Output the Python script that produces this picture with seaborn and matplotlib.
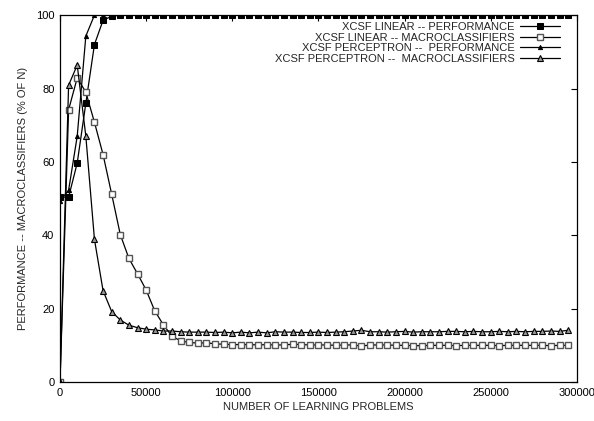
import numpy as np
import pandas as pd
import seaborn as sns
import matplotlib
matplotlib.use('Agg')
import matplotlib.pyplot as plt

# Learning problems, sampled every 5000 steps
problems = np.arange(0, 300000, 5000)

linear_perf = [50.4, 50.4, 59.7, 76.0, 92.0, 98.6, 99.7, 100, 100, 100,
               100, 100, 100, 100, 100, 100, 100, 100, 100, 100,
               100, 100, 100, 100, 100, 100, 100, 100, 100, 100,
               100, 100, 100, 100, 100, 100, 100, 100, 100, 100,
               100, 100, 100, 100, 100, 100, 100, 100, 100, 100,
               100, 100, 100, 100, 100, 100, 100, 100, 100, 100]

linear_macro = [0.0, 74.2, 82.9, 79.0, 70.8, 62.0, 51.2, 40.2, 33.7, 29.5,
                25.1, 19.4, 15.6, 12.5, 11.2, 10.8, 10.6, 10.7, 10.4, 10.3,
                10.2, 10.2, 10.2, 10.1, 10.2, 10.1, 10.1, 10.3, 10.2, 10.1,
                10.1, 10.1, 10.0, 10.1, 10.1, 9.8, 10.1, 10.1, 10.1, 10.0,
                10.0, 9.9, 9.9, 10.0, 10.0, 10.0, 9.9, 10.0, 10.0, 10.0,
                10.0, 9.9, 10.0, 10.0, 10.0, 10.0, 10.0, 9.9, 10.0, 10.0]

perceptron_perf = [49.4, 52.3, 67.0, 94.3, 100, 100, 100, 100, 100, 100,
                   100, 100, 100, 100, 100, 100, 100, 100, 100, 100,
                   100, 100, 100, 100, 100, 100, 100, 100, 100, 100,
                   100, 100, 100, 100, 100, 100, 100, 100, 100, 100,
                   100, 100, 100, 100, 100, 100, 100, 100, 100, 100,
                   100, 100, 100, 100, 100, 100, 100, 100, 100, 100]

perceptron_macro = [0.0, 80.9, 86.4, 67.0, 38.9, 24.9, 19.2, 16.9, 15.5, 14.8,
                    14.4, 14.2, 13.9, 13.9, 13.7, 13.6, 13.6, 13.6, 13.5, 13.6,
                    13.4, 13.6, 13.4, 13.6, 13.4, 13.7, 13.6, 13.6, 13.5, 13.5,
                    13.6, 13.5, 13.6, 13.7, 13.9, 14.1, 13.7, 13.7, 13.6, 13.7,
                    13.8, 13.6, 13.7, 13.7, 13.7, 13.8, 13.8, 13.7, 13.8, 13.7,
                    13.7, 13.8, 13.7, 13.8, 13.7, 13.8, 13.8, 13.9, 13.8, 14.1]

# Performance curves also start from zero before the first evaluation
perf_x = np.concatenate([[0], problems])

sns.set_style('white')
plt.rcParams['font.family'] = ['Liberation Sans', 'DejaVu Sans']

fig = plt.figure(figsize=(5.94, 4.21), dpi=100)
ax = fig.add_axes([0.101, 0.0926, 0.870, 0.8714])

common = dict(ax=ax, color='black', lw=0.9, sort=False, estimator=None)

sns.lineplot(x=perf_x, y=[0.0] + linear_perf, marker='s', markersize=4.5,
             markerfacecolor='black', markeredgecolor='black',
             label='XCSF LINEAR -- PERFORMANCE', **common)
sns.lineplot(x=problems, y=linear_macro, marker='s', markersize=4.2,
             markerfacecolor='white', markeredgecolor='#555555', markeredgewidth=1.0,
             label='XCSF LINEAR -- MACROCLASSIFIERS', **common)
sns.lineplot(x=perf_x, y=[0.0] + perceptron_perf, marker='^', markersize=3.0,
             markerfacecolor='black', markeredgecolor='black',
             label='XCSF PERCEPTRON --  PERFORMANCE', **common)
sns.lineplot(x=problems, y=perceptron_macro, marker='^', markersize=4.5,
             markerfacecolor='#999999', markeredgecolor='black', markeredgewidth=0.8,
             label='XCSF PERCEPTRON --  MACROCLASSIFIERS', **common)

ax.set_xlim(0, 300000)
ax.set_ylim(0, 100)
ax.set_xticks([0, 50000, 100000, 150000, 200000, 250000, 300000])
ax.set_yticks([0, 20, 40, 60, 80, 100])
ax.set_xticklabels(['0', '50000', '100000', '150000', '200000', '250000', '300000'])
ax.tick_params(direction='in', top=True, right=True, length=4, width=0.8,
               labelsize=8, colors='black', pad=4)
for side in ax.spines.values():
    side.set_color('black')
    side.set_linewidth(0.9)

ax.set_xlabel('NUMBER OF LEARNING PROBLEMS', fontsize=8, labelpad=3)
ax.set_ylabel('PERFORMANCE -- MACROCLASSIFIERS (% OF N)', fontsize=8, labelpad=6)

ax.legend(loc='upper right', bbox_to_anchor=(0.967, 0.981), frameon=False,
          markerfirst=False, fontsize=8, handlelength=3.6, labelspacing=0.05,
          handletextpad=0.45, borderaxespad=0, borderpad=0)

fig.savefig('out.png', dpi=100)
